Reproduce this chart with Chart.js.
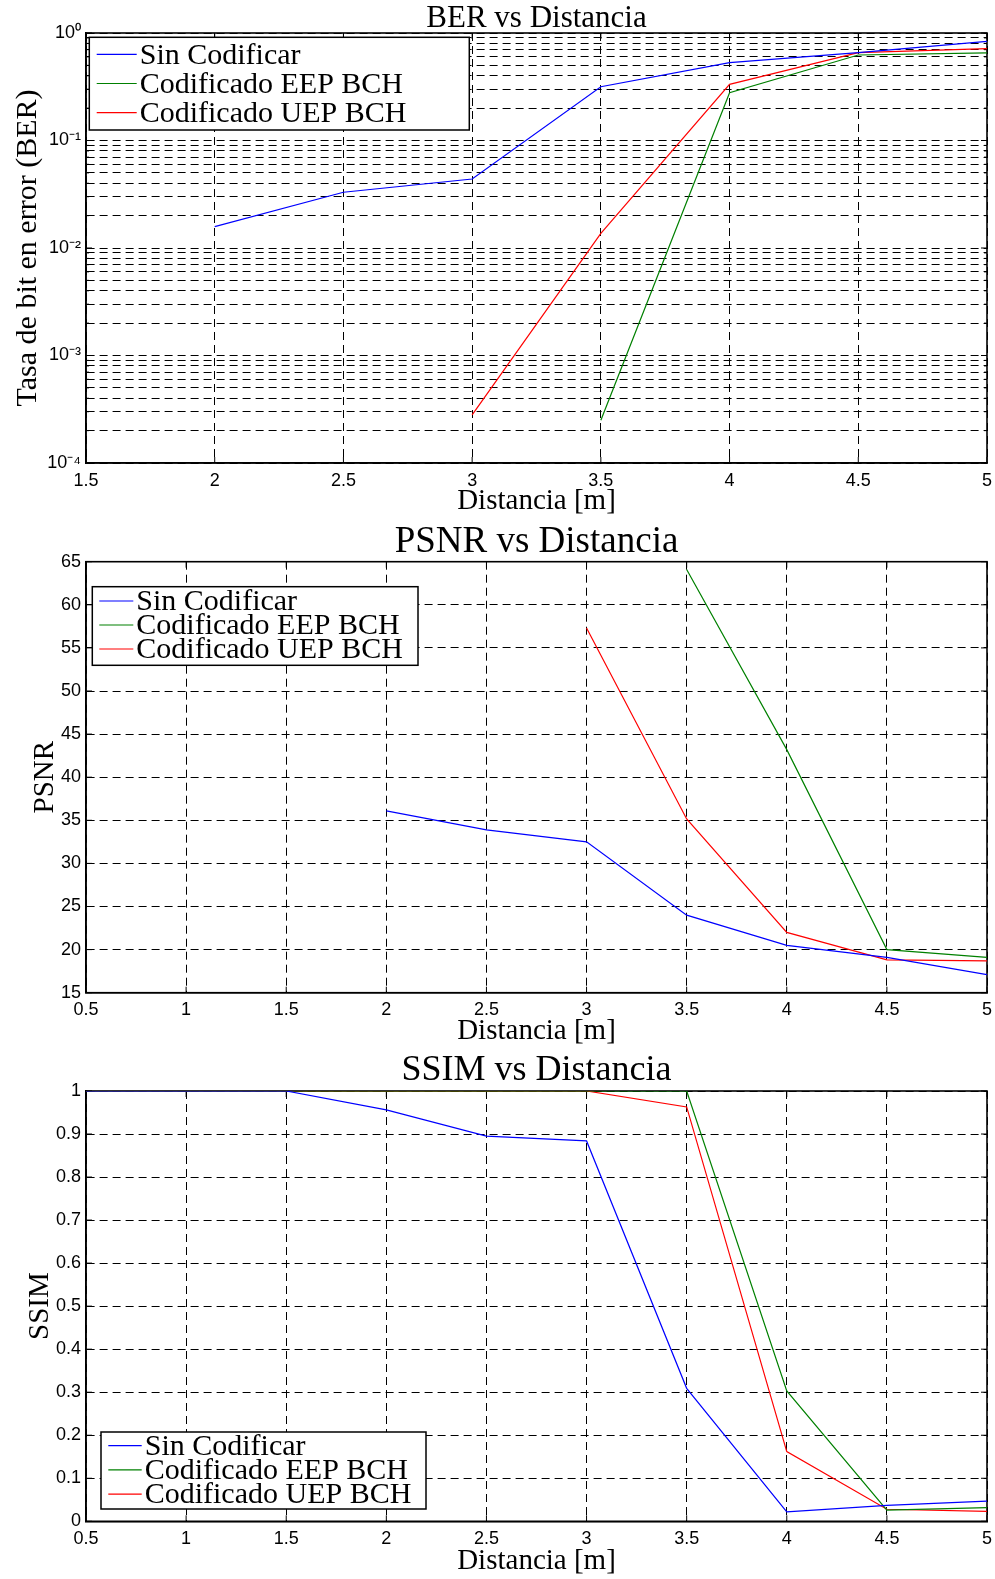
<!DOCTYPE html>
<html>
<head>
<meta charset="utf-8">
<script src="https://cdn.jsdelivr.net/npm/chart.js@4.4.0/dist/chart.umd.min.js"></script>
<style>
  body { margin: 0; background: #fff; width: 995px; height: 1579px; position: relative; overflow: hidden; }
  canvas { position: absolute; left: 0; }
</style>
</head>
<body>
<canvas id="berChart" width="995" height="520" style="top:0px"></canvas>
<canvas id="psnrChart" width="995" height="528" style="top:520px"></canvas>
<canvas id="ssimChart" width="995" height="531" style="top:1048px"></canvas>
<script>
// DATA
const distancias = [0.5, 1, 1.5, 2, 2.5, 3, 3.5, 4, 4.5, 5];
const nombres = ["Sin Codificar", "Codificado EEP BCH", "Codificado UEP BCH"];
const colores = ["#0000ff", "#008000", "#ff0000"];

// BER
const berSinCod = [null, null, null, 0.0158, 0.033, 0.0438, 0.316, 0.53, 0.656, 0.837];
const berEEP    = [null, null, null, null, null, null, 0.00025, 0.278, 0.624, 0.652];
const berUEP    = [null, null, null, null, null, 0.00028, 0.0137, 0.333, 0.656, 0.715];

// PSNR
const psnrSinCod = [null, null, null, 36.1, 33.9, 32.5, 24.0, 20.5, 19.1, 17.1];
const psnrEEP    = [null, null, null, null, null, null, 64.1, 43.2, 20.0, 19.1];
const psnrUEP    = [null, null, null, null, null, 57.3, 35.15, 22.0, 18.8, 18.7];

// SSIM
const ssimSinCod = [1, 1, 1, 0.956, 0.895, 0.884, 0.309, 0.022, 0.037, 0.047];
const ssimEEP    = [1, 1, 1, 1, 1, 1, 1, 0.303, 0.026, 0.032];
const ssimUEP    = [1, 1, 1, 1, 1, 1, 0.963, 0.162, 0.028, 0.023];

// log ticks for BER axis
const berDecadas = [-4, -3, -2, -1];
const berMantisas = [1, 2, 3, 4, 5, 6, 7, 8, 9];
const sup = { "0": "⁰", "1": "¹", "2": "²", "3": "³", "4": "⁴", "-": "⁻" };

let berTicks = [];
berDecadas.forEach(d => berMantisas.forEach(m => berTicks.push(Number((m * Math.pow(10, d)).toPrecision(3)))));
berTicks.push(1);

function serie(valores) {
  return distancias.map((d, i) => ({ x: d, y: valores[i] }));
}

function datasets(a, b, c) {
  return [a, b, c].map((v, i) => ({
    label: nombres[i],
    data: serie(v),
    borderColor: colores[i],
    borderWidth: 1.2,
    pointRadius: 0,
    fill: false
  }));
}

// box + inner tick marks like matlab
const marco = {
  id: "marco",
  beforeDatasetsDraw(chart) {
    const ctx = chart.ctx, a = chart.chartArea;
    const sx = chart.scales.x, sy = chart.scales.y;
    ctx.save();
    ctx.strokeStyle = "#000";
    ctx.lineWidth = 1;
    sx.ticks.forEach(t => {
      const px = sx.getPixelForValue(t.value);
      ctx.beginPath();
      ctx.moveTo(px, a.bottom); ctx.lineTo(px, a.bottom - 6);
      ctx.moveTo(px, a.top); ctx.lineTo(px, a.top + 6);
      ctx.stroke();
    });
    sy.ticks.forEach(t => {
      const py = sy.getPixelForValue(t.value);
      const l = t.label === "" ? 3 : 6;
      ctx.beginPath();
      ctx.moveTo(a.left, py); ctx.lineTo(a.left + l, py);
      ctx.moveTo(a.right, py); ctx.lineTo(a.right - l, py);
      ctx.stroke();
    });
    ctx.lineWidth = 1.6;
    ctx.strokeRect(a.left, a.top, a.right - a.left, a.bottom - a.top);
    ctx.restore();
  }
};

// legend box inside the plot
const leyenda = {
  id: "leyenda",
  afterDraw(chart, args, o) {
    const ctx = chart.ctx, a = chart.chartArea;
    const x = a.left + o.x;
    const y = o.top != null ? a.top + o.top : a.bottom - o.bottom - o.h;
    ctx.save();
    ctx.fillStyle = "#fff";
    ctx.fillRect(x, y, o.w, o.h);
    ctx.strokeStyle = "#000";
    ctx.lineWidth = 1.5;
    ctx.strokeRect(x, y, o.w, o.h);
    ctx.font = '30px "Liberation Serif"';
    ctx.textBaseline = "middle";
    chart.data.datasets.forEach((ds, i) => {
      const yy = y + o.first + i * o.step;
      ctx.strokeStyle = ds.borderColor;
      ctx.lineWidth = 1.2;
      ctx.beginPath();
      ctx.moveTo(x + o.pad, yy);
      ctx.lineTo(x + o.pad + o.len, yy);
      ctx.stroke();
      ctx.fillStyle = "#000";
      ctx.fillText(ds.label, x + o.pad + o.len + 3, yy + 1.5);
    });
    ctx.restore();
  }
};

const tickFont = { family: "Liberation Sans", size: 18 };
const grid = { color: "#000", lineWidth: 1, drawTicks: false };
const borde = { display: true, color: "#000", width: 1.6, dash: [8, 5] };
const numero = v => String(Math.round(v * 100) / 100);

function makeChart(id, data, g) {
  const yScale = {
    type: g.log ? "logarithmic" : "linear",
    min: g.yMin, max: g.yMax,
    grid: grid,
    border: borde,
    ticks: { font: tickFont, color: "#000", padding: 5, autoSkip: false, stepSize: g.yStep, callback: numero },
    title: {
      display: true, text: g.yTitle, color: "#000",
      font: { family: "Liberation Serif", size: g.yTitleSize, lineHeight: g.yTitleSize + "px" },
      padding: { top: g.yTitlePad, bottom: 0 }
    },
    afterFit: s => { s.width = 86; }
  };
  if (g.log) {
    yScale.afterBuildTicks = s => { s.ticks = berTicks.map(v => ({ value: v })); };
    yScale.ticks.callback = v => {
      const e = Math.log10(v);
      if (Math.abs(e - Math.round(e)) > 1e-6) return "";
      return "10" + String(Math.round(e)).split("").map(c => sup[c]).join("");
    };
  }
  return new Chart(document.getElementById(id), {
    type: "line",
    data: { datasets: data },
    options: {
      responsive: false,
      animation: false,
      devicePixelRatio: 1,
      layout: { padding: { left: 0, right: 8, top: 0, bottom: 0 } },
      plugins: {
        legend: { display: false },
        tooltip: { enabled: false },
        title: {
          display: true, text: g.title, color: "#000", fullSize: false,
          font: { family: "Liberation Serif", size: g.titleSize, weight: "normal", lineHeight: g.titleLH + "px" },
          padding: { top: g.titlePad, bottom: 0 }
        },
        leyenda: g.leyenda
      },
      scales: {
        x: {
          type: "linear",
          min: g.xMin, max: 5,
          grid: grid,
          border: borde,
          ticks: { font: tickFont, color: "#000", padding: 7, stepSize: 0.5, autoSkip: false, callback: numero },
          title: {
            display: true, text: "Distancia [m]", color: "#000",
            font: { family: "Liberation Serif", size: 29, lineHeight: "29px" },
            padding: { top: 0, bottom: g.xTitlePad }
          },
          afterFit: s => {
            s.height = g.xHeight;
            s.paddingLeft = 0;
            s.paddingRight = 0;
          }
        },
        y: yScale
      }
    },
    plugins: [marco, leyenda]
  });
}

makeChart("berChart", datasets(berSinCod, berEEP, berUEP), {
  log: true, yMin: 0.0001, yMax: 1, xMin: 1.5,
  title: "BER vs Distancia", titleSize: 31, titleLH: 28, titlePad: 5,
  yTitle: "Tasa de bit en error (BER)", yTitleSize: 30, yTitlePad: 13,
  xHeight: 57, xTitlePad: 4,
  leyenda: { x: 3.3, top: 4.3, w: 380, h: 92.7, first: 17, step: 29.2, pad: 7.4, len: 40 }
});

makeChart("psnrChart", datasets(psnrSinCod, psnrEEP, psnrUEP), {
  log: false, yMin: 15, yMax: 65, yStep: 5, xMin: 0.5,
  title: "PSNR vs Distancia", titleSize: 37, titleLH: 38.4, titlePad: 3.3,
  yTitle: "PSNR", yTitleSize: 29, yTitlePad: 31,
  xHeight: 55.3, xTitlePad: 2,
  leyenda: { x: 6.3, top: 25, w: 325.7, h: 78.6, first: 14.3, step: 24, pad: 7, len: 34 }
});

makeChart("ssimChart", datasets(ssimSinCod, ssimEEP, ssimUEP), {
  log: false, yMin: 0, yMax: 1, yStep: 0.1, xMin: 0.5,
  title: "SSIM vs Distancia", titleSize: 36, titleLH: 40, titlePad: 3,
  yTitle: "SSIM", yTitleSize: 29, yTitlePad: 25.5,
  xHeight: 57.7, xTitlePad: 3.5,
  leyenda: { x: 15, bottom: 12.3, w: 325, h: 77, first: 13.7, step: 24.2, pad: 7.3, len: 33.4 }
});
</script>
</body>
</html>
